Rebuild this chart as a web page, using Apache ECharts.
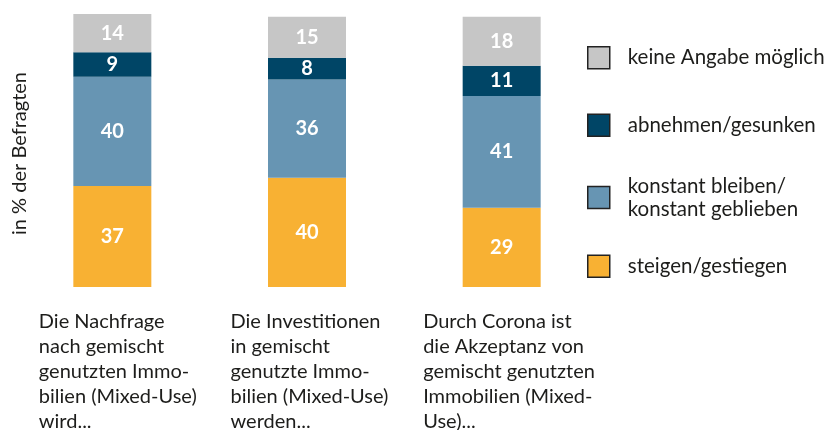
<!DOCTYPE html>
<html>
<head>
<meta charset="utf-8">
<script src="https://cdn.jsdelivr.net/npm/echarts@6/dist/echarts.min.js"></script>
<style>
  html, body { margin: 0; padding: 0; background: #fff; }
  #chart { width: 830px; height: 430px; }
</style>
</head>
<body>
<div id="chart"></div>
<script>
// Kategorien (Beschriftung unter den Balken)
const categories = [
  'Die Nachfrage\nnach gemischt\ngenutzten Immo-\nbilien (Mixed-Use)\nwird...',
  'Die Investitionen\nin gemischt\ngenutzte Immo-\nbilien (Mixed-Use)\nwerden...',
  'Durch Corona ist\ndie Akzeptanz von\ngemischt genutzten\nImmobilien (Mixed-\nUse)...'
]

// Werte in % der Befragten
const steigen = [37, 40, 29]
const konstant = [40, 36, 41]
const abnehmen = [9, 8, 11]
const keineAngabe = [14, 15, 18]

const seriesNames = [
  'steigen/gestiegen',
  'konstant bleiben/\nkonstant geblieben',
  'abnehmen/gesunken',
  'keine Angabe möglich'
]

const FONT = 'Lato'
const TEXT_COLOR = '#1d1d1b'

const chart = echarts.init(document.getElementById('chart'), null, { renderer: 'canvas' })

// Balkenlabel: weiß, fett, mittig
const valueLabel = {
  show: true,
  position: 'inside',
  color: '#fff',
  fontFamily: FONT,
  fontWeight: 'bold',
  fontSize: 20
}

function makeSeries (name, data, color) {
  return {
    name: name,
    type: 'bar',
    stack: 'total',
    barWidth: 78,
    data: data,
    itemStyle: { color: color },
    label: valueLabel
  }
}

// eine Legende pro Eintrag, damit die Abstände passen
function makeLegend (name, top) {
  return {
    data: [name],
    orient: 'vertical',
    left: 582,
    top: top,
    selectedMode: false,
    icon: 'rect',
    itemWidth: 22,
    itemHeight: 22,
    itemStyle: { borderColor: '#222', borderWidth: 1.5 },
    textStyle: {
      fontFamily: FONT,
      fontSize: 20.5,
      lineHeight: 23,
      color: TEXT_COLOR,
      padding: [0, 0, 0, 13]
    }
  }
}

const labelRich = function (pad) {
  return { align: 'left', padding: [0, 0, 0, pad], fontFamily: FONT, fontSize: 20, lineHeight: 25, color: TEXT_COLOR }
}

const option = {
  animation: false,
  backgroundColor: '#fff',
  grid: {
    left: 15,
    right: 231,
    top: 14,
    bottom: 143,
    outerBoundsMode: 'none'
  },
  legend: [
    makeLegend(seriesNames[3], 41),
    makeLegend(seriesNames[2], 108.5),
    makeLegend(seriesNames[1], 169.5),
    makeLegend(seriesNames[0], 249.5)
  ],
  xAxis: {
    type: 'category',
    data: categories,
    axisLine: { show: false },
    axisTick: { show: false },
    axisLabel: {
      interval: 0,
      margin: 22,
      width: 157,
      overflow: 'none',
      align: 'center',
      verticalAlign: 'top',
      fontFamily: FONT,
      fontSize: 20,
      lineHeight: 25,
      color: TEXT_COLOR,
      formatter: function (value, idx) {
        return '{c' + idx + '|' + value + '}'
      },
      rich: {
        c0: labelRich(5),
        c1: labelRich(2),
        c2: labelRich(0)
      }
    }
  },
  yAxis: {
    type: 'value',
    min: 0,
    max: 100,
    name: 'in % der Befragten',
    nameLocation: 'middle',
    nameRotate: 90,
    nameGap: -15,
    nameTextStyle: {
      fontFamily: FONT,
      fontSize: 20,
      color: TEXT_COLOR,
      padding: [0, 6, 0, 0]
    },
    axisLine: { show: false },
    axisTick: { show: false },
    axisLabel: { show: false },
    splitLine: { show: false }
  },
  series: [
    makeSeries(seriesNames[0], steigen, '#f8b133'),
    makeSeries(seriesNames[1], konstant, '#6795b3'),
    makeSeries(seriesNames[2], abnehmen, '#004566'),
    makeSeries(seriesNames[3], keineAngabe, '#c6c6c6')
  ]
}

chart.setOption(option)
</script>
</body>
</html>
